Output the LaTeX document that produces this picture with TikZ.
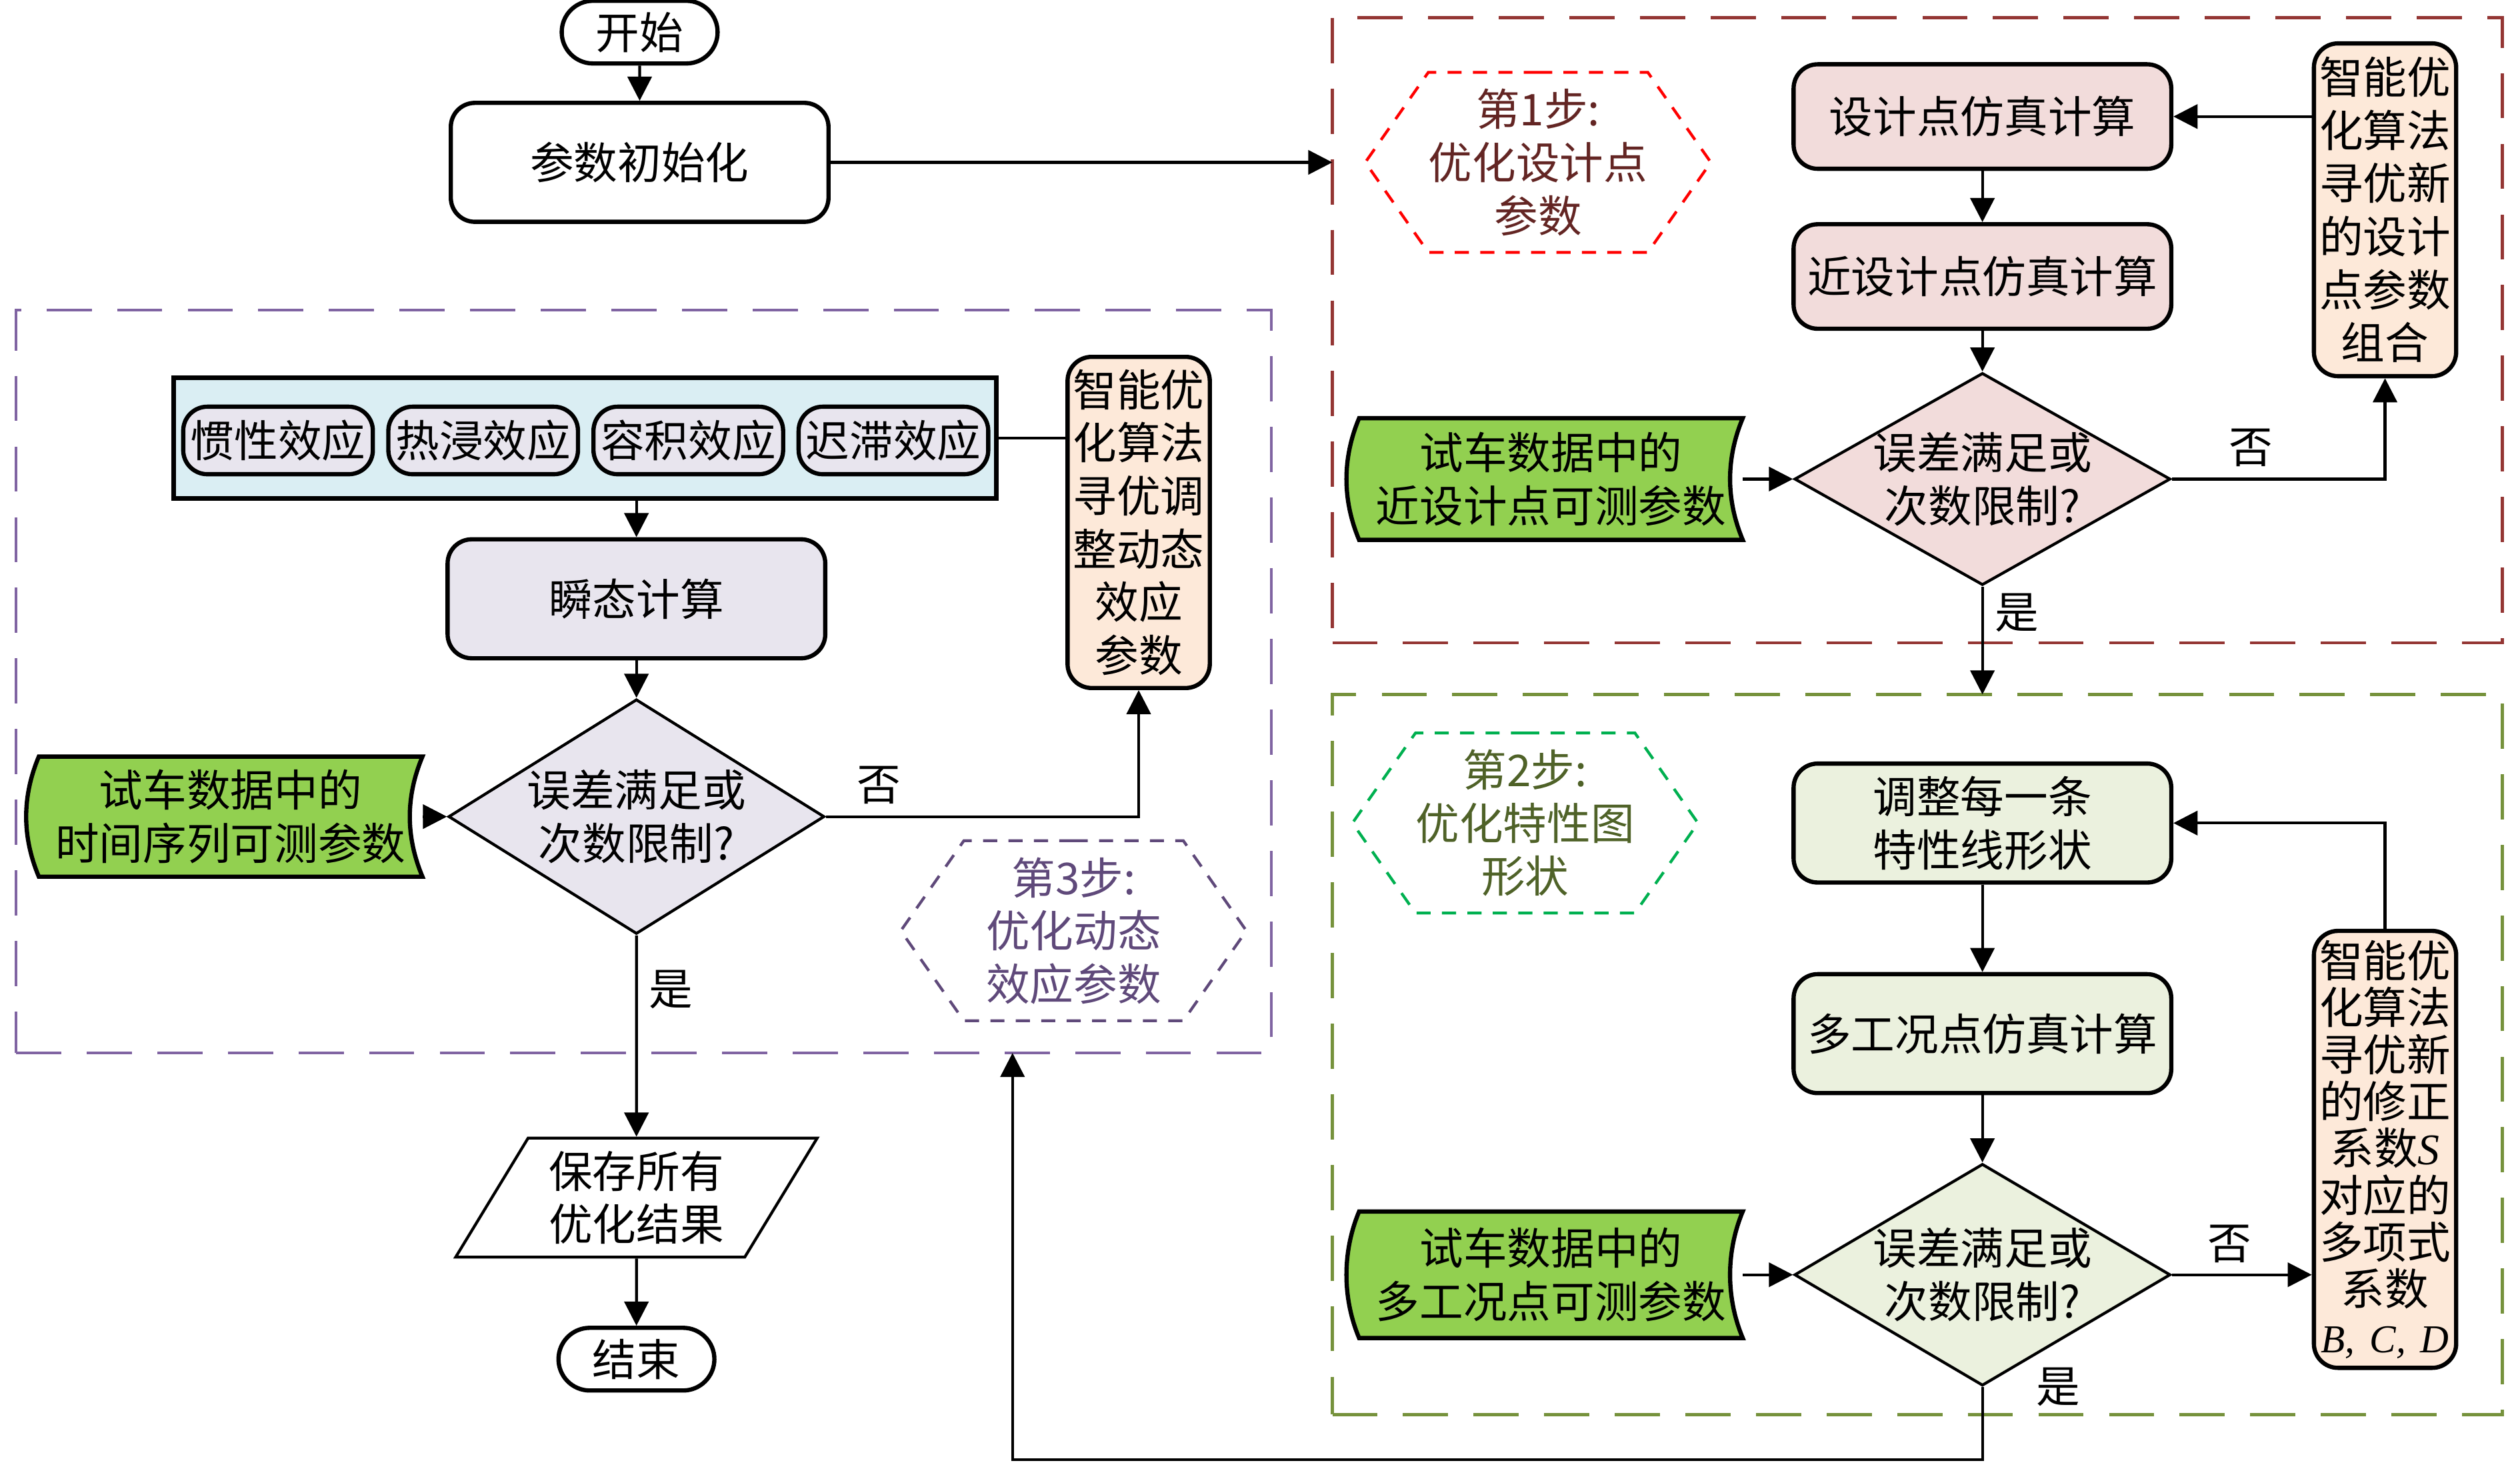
\documentclass[tikz,border=0pt]{standalone}
\usepackage{fontspec}
\setmainfont{Liberation Serif}
\newfontfamily\cjk{Noto Sans CJK SC}
\usepackage{xcolor}
\usetikzlibrary{arrows.meta, positioning, shapes.geometric, shapes.misc, shapes.symbols}
\pgfdeclarelayer{background}
\pgfsetlayers{background,main}
\newcommand{\cnfont}{\cjk\fontsize{15.5}{18.8}\selectfont}
\definecolor{regred}{HTML}{943634}
\definecolor{reggreen}{HTML}{76923C}
\definecolor{regpurple}{HTML}{8064A2}
\definecolor{hexred}{HTML}{FF0000}
\definecolor{hexgreen}{HTML}{00B050}
\definecolor{hexpurple}{HTML}{5F497A}
\definecolor{txtred}{HTML}{632523}
\definecolor{txtgreen}{HTML}{4F6228}
\definecolor{fillpink}{HTML}{F2DCDB}
\definecolor{fillpeach}{HTML}{FDE9D9}
\definecolor{fillgreen}{HTML}{EBF1DE}
\definecolor{filllav}{HTML}{E8E5EE}
\definecolor{fillblue}{HTML}{DAEEF3}
\definecolor{tapegreen}{HTML}{92D050}

\begin{document}
\begin{tikzpicture}[>={Triangle[length=0.3cm, width=0.3cm]},
                every node/.style={font=\cnfont, align=center},
                region/.style={draw, line width=1pt, dash pattern=on 16pt off 9pt, minimum width=14.56cm, inner sep=0pt, outer sep=0pt},
                box/.style={draw, line width=1.5pt, rounded corners=0.3cm, minimum width=4.7cm, minimum height=1.48cm, inner sep=2pt},
                optbox/.style={draw, line width=1.5pt, rounded corners=0.3cm, fill=fillpeach, text width=1.7cm, inner xsep=1pt},
                check/.style={draw, diamond, aspect=1.77, line width=1pt, inner xsep=-0.1cm, inner ysep=-0.05cm, minimum width=4.68cm, minimum height=2.7cm},
                tapebox/.style={minimum width=4.76cm, minimum height=1.5cm, inner sep=0pt},
                tapeline/.style={draw, line width=1.5pt, fill=tapegreen},
                hexa/.style={signal, signal to=west and east, signal pointer angle=110, line width=1pt, dash pattern=on 5pt off 4pt, minimum width=4.3cm, minimum height=2.24cm, inner sep=0pt},
                startstop/.style={draw, rounded rectangle, line width=1.5pt, minimum width=1.94cm, minimum height=0.78cm, inner sep=0pt},
                effect/.style={draw, line width=1.5pt, rounded corners=0.3cm, fill=filllav, minimum width=2.36cm, minimum height=0.84cm, inner sep=0pt},
                lbl/.style={inner sep=1pt},
                arr/.style={->, line width=1pt}]
                \useasboundingbox (0,0) rectangle (31.36,-18.22);
                \node (reg1) [region, draw=regred, minimum height=7.78cm] at (23.86,-4.11) {};
                \node (reg2) [region, draw=reggreen, minimum height=8.96cm] at (23.86,-13.12) {};
                \node (reg3) [region, draw=regpurple, minimum width=15.62cm, minimum height=9.24cm] at (8.01,-8.48) {};

                \node (start) [startstop] at (7.96,-0.40) {开始};
                \node (init)  [box] at (7.96,-2.02) {参数初始化};

                \node (step1) [hexa, draw=hexred, text=txtred] at (19.14,-2.02) {第1步:\\优化设计点\\参数};
                \node (sim1)  [box, fill=fillpink, minimum height=1.3cm] at (24.67,-1.45) {设计点仿真计算};
                \node (sim2)  [box, fill=fillpink, minimum height=1.3cm] at (24.67,-3.44) {近设计点仿真计算};
                \node (dec1)  [check, fill=fillpink, minimum height=2.64cm] at (24.67,-5.96) {误差满足或\\次数限制?};
                \node (data1) [tapebox] at (19.3,-5.96) {试车数据中的\\近设计点可测参数};
                \node (opt1)  [optbox, minimum height=4.14cm] at (29.68,-2.61) {智能优\\化算法\\寻优新\\的设计\\点参数\\组合};

                \node (step2) [hexa, draw=hexgreen, text=txtgreen] at (18.98,-10.24) {第2步:\\优化特性图\\形状};
                \node (adj)   [box, fill=fillgreen] at (24.67,-10.24) {调整每一条\\特性线形状};
                \node (sim3)  [box, fill=fillgreen] at (24.67,-12.86) {多工况点仿真计算};
                \node (dec2)  [check, fill=fillgreen, minimum height=2.76cm] at (24.67,-15.86) {误差满足或\\次数限制?};
                \node (data2) [tapebox, minimum height=1.56cm] at (19.3,-15.86) {试车数据中的\\多工况点可测参数};
                \node (opt2)  [optbox, minimum height=5.4cm, font=\cjk\fontsize{15.5}{16.6}\selectfont] at (29.68,-14.30)
                    {智能优\\化算法\\寻优新\\的修正\\系数{\rmfamily\itshape S}\\对应的\\多项式\\系数\\\makebox[1.7cm]{\rmfamily\itshape\fontsize{14}{16}\selectfont B, C, D}};

                \node (effects) [draw, line width=1.5pt, fill=fillblue, minimum width=10.24cm, minimum height=1.5cm] at (7.28,-5.45) {};
                \node (eff1)  [effect] at (3.46,-5.48) {惯性效应};
                \node (eff2)  [effect, right=0.14cm of eff1] {热浸效应};
                \node (eff3)  [effect, right=0.14cm of eff2] {容积效应};
                \node (eff4)  [effect, right=0.14cm of eff3] {迟滞效应};
                \node (opt3)  [optbox, minimum height=4.12cm] at (14.17,-6.5) {智能优\\化算法\\寻优调\\整动态\\效应\\参数};
                \node (trans) [box, fill=filllav] at (7.92,-7.45) {瞬态计算};
                \node (dec3)  [check, fill=filllav, minimum height=2.92cm] at (7.92,-10.16) {误差满足或\\次数限制?};
                \node (data3) [tapebox, minimum height=1.48cm] at (2.87,-10.16) {试车数据中的\\时间序列可测参数};
                \node (step3) [hexa, draw=hexpurple, text=hexpurple] at (13.36,-11.58) {第3步:\\优化动态\\效应参数};
                \node (save)  [draw, trapezium, trapezium left angle=60, trapezium right angle=120, trapezium stretches=true,
                               line width=1pt, minimum width=4.5cm, minimum height=1.48cm] at (7.92,-14.9) {保存所有\\优化结果};
                \node (end)   [startstop] at (7.92,-16.91) {结束};

                \begin{pgfonlayer}{background}
                \foreach \d in {data1,data2,data3}
                    \draw[tapeline] (\d.north west) .. controls +(-0.21,-0.5) and +(-0.21,0.5) .. (\d.south west)
                        -- (\d.south east) .. controls +(-0.21,0.5) and +(-0.21,-0.5) .. (\d.north east) -- cycle;
                \end{pgfonlayer}

                \draw[arr] (start) -- (init);
                \draw[arr] (init.east) -- (init.east -| reg1.west);
                \draw[arr] (opt1.west |- sim1.east) -- (sim1.east);
                \draw[arr] (sim1) -- (sim2);
                \draw[arr] (sim2) -- (dec1);
                \draw[arr] (data1) -- (dec1);
                \draw[arr] (dec1.east) -- node[lbl, above=0.1cm, pos=0.37] {否} (dec1.east -| opt1.south) -- (opt1.south);
                \draw[arr] (dec1.south) -- node[lbl, right=0.1cm, pos=0.24] {是} (dec1.south |- reg2.north);

                \draw[arr] (adj) -- (sim3);
                \draw[arr] (sim3) -- (dec2);
                \draw[arr] (data2) -- (dec2);
                \draw[arr] (dec2.east) -- node[lbl, above=0.1cm, pos=0.41] {否} (dec2.east -| opt2.west);
                \draw[arr] (opt2.north) |- (adj.east);
                \coordinate (back) at (12.6,-18.16);
                \draw[arr] (dec2.south) node[lbl, xshift=0.94cm] {是} |- (back) -- (back |- reg3.south);

                \draw[arr] (effects.south -| trans.north) -- (trans.north);
                \draw[line width=1pt] (effects.east) -- (effects.east -| opt3.west);
                \draw[arr] (trans) -- (dec3);
                \draw[arr] (data3) -- (dec3);
                \draw[arr] (dec3.east) -- node[lbl, above=0.1cm, pos=0.17] {否} (dec3.east -| opt3.south) -- (opt3.south);
                \draw[arr] (dec3.south) -- node[lbl, right=0.1cm, pos=0.27] {是} (save.north);
                \draw[arr] (save) -- (end);
            \end{tikzpicture}
\end{document}
